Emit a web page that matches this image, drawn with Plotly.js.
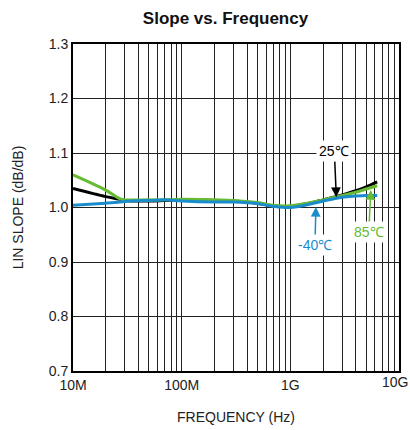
<!DOCTYPE html>
<html>
<head>
<meta charset="utf-8">
<script src="https://cdn.plot.ly/plotly-3.0.1.min.js"></script>
<style>html,body{margin:0;padding:0;background:#fff;}#chart{width:410px;height:430px;}</style>
</head>
<body>
<div id="chart"></div>
<script>
const freq = [1e7, 2e7, 2.7e7, 3e7, 5e7, 7e7, 1e8, 2e8, 3e8, 5e8, 7e8, 1e9, 1.5e9, 2e9, 3e9, 4e9, 5e9, 6.3e9];
const slope25 = [1.035, 1.020, 1.015, 1.013, 1.012, 1.013, 1.014, 1.013, 1.012, 1.008, 1.003, 1.002, 1.008, 1.014, 1.023, 1.031, 1.038, 1.047];
const slope85 = [1.060, 1.032, 1.016, 1.014, 1.014, 1.014, 1.015, 1.014, 1.013, 1.009, 1.004, 1.003, 1.009, 1.014, 1.022, 1.028, 1.034, 1.040];
const slopeM40 = [1.004, 1.008, 1.010, 1.011, 1.013, 1.014, 1.012, 1.010, 1.010, 1.007, 1.002, 1.000, 1.006, 1.012, 1.019, 1.021, 1.022, 1.022];
const xTickVals = [];
for (let d = 7; d < 10; d++) for (let m = 1; m <= 9; m++) xTickVals.push(m * Math.pow(10, d));
xTickVals.push(1e10);
const xTickLabelMap = {"10000000": "10M", "100000000": "100M", "1000000000": "1G"};
const lastTickLabel = "10G";
const xTickText = xTickVals.map(v => xTickLabelMap[String(Math.round(v))] || "");

const cBlack = "#000000", cGreen = "#66bb33", cBlue = "#1a8ccc";

const traces = [
  {x: freq, y: slope25, mode: "lines", line: {color: cBlack, width: 3, shape: "spline"}, name: "25℃"},
  {x: freq, y: slope85, mode: "lines", line: {color: cGreen, width: 3, shape: "spline"}, name: "85℃"},
  {x: freq, y: slopeM40, mode: "lines", line: {color: cBlue, width: 3, shape: "spline"}, name: "-40℃"}
];

const fam = "Liberation Sans, Arial, sans-serif";
const font = {family: fam, size: 14, color: "#222"};
const layout = {
  width: 410, height: 430,
  margin: {l: 73, r: 11, t: 44, b: 59},
  paper_bgcolor: "#fff", plot_bgcolor: "#fff",
  showlegend: false,
  font: font,
  title: {text: "<b>Slope vs. Frequency</b>", font: {family: fam, size: 17, color: "#111"}, x: 0.55, xanchor: "center", y: 0.958, yanchor: "middle"},
  xaxis: {
    type: "log", range: [7, 10],
    tickmode: "array", tickvals: xTickVals, ticktext: xTickText,
    showgrid: true, gridcolor: "#222", gridwidth: 1,
    showline: true, linecolor: "#000", linewidth: 2, mirror: true,
    ticks: "", ticklen: 0, zeroline: false,
    tickfont: font,
    title: {text: "FREQUENCY (Hz)", font: font, standoff: 20}
  },
  yaxis: {
    range: [0.7, 1.3], dtick: 0.1, tick0: 0.7, tickformat: ".1f",
    showgrid: true, gridcolor: "#222", gridwidth: 1,
    showline: true, linecolor: "#000", linewidth: 2, mirror: true,
    ticks: "", zeroline: false,
    tickfont: font,
    title: {text: "LIN SLOPE (dB/dB)", font: font, standoff: 22}
  },
  annotations: [
    {x: 10, y: 0, xref: "x", yref: "paper", text: lastTickLabel, showarrow: false,
     xanchor: "right", yanchor: "top", xshift: 11, yshift: -1, font: font},
    {x: Math.log10(2.65e9), y: 1.019, xref: "x", yref: "y", text: "25℃", showarrow: true,
     arrowhead: 2, arrowsize: 1.3, arrowwidth: 1.5, arrowcolor: cBlack, ax: -2, ay: -46,
     font: {family: fam, size: 14, color: cBlack}, bgcolor: "#fff", borderpad: 2},
    {x: Math.log10(1.72e9), y: 1.001, xref: "x", yref: "y", text: "-40℃", showarrow: true,
     arrowhead: 2, arrowsize: 1.3, arrowwidth: 1.5, arrowcolor: cBlue, ax: -1, ay: 38,
     font: {family: fam, size: 14, color: cBlue}, bgcolor: "#fff", borderpad: 2},
    {x: Math.log10(5.5e9), y: 1.032, xref: "x", yref: "y", text: "85℃", showarrow: true,
     arrowhead: 2, arrowsize: 1.3, arrowwidth: 1.5, arrowcolor: cGreen, ax: -2, ay: 42,
     font: {family: fam, size: 14, color: cGreen}, bgcolor: "#fff", borderpad: 2}
  ]
};
Plotly.newPlot("chart", traces, layout, {displayModeBar: false, staticPlot: true});
</script>
</body>
</html>
